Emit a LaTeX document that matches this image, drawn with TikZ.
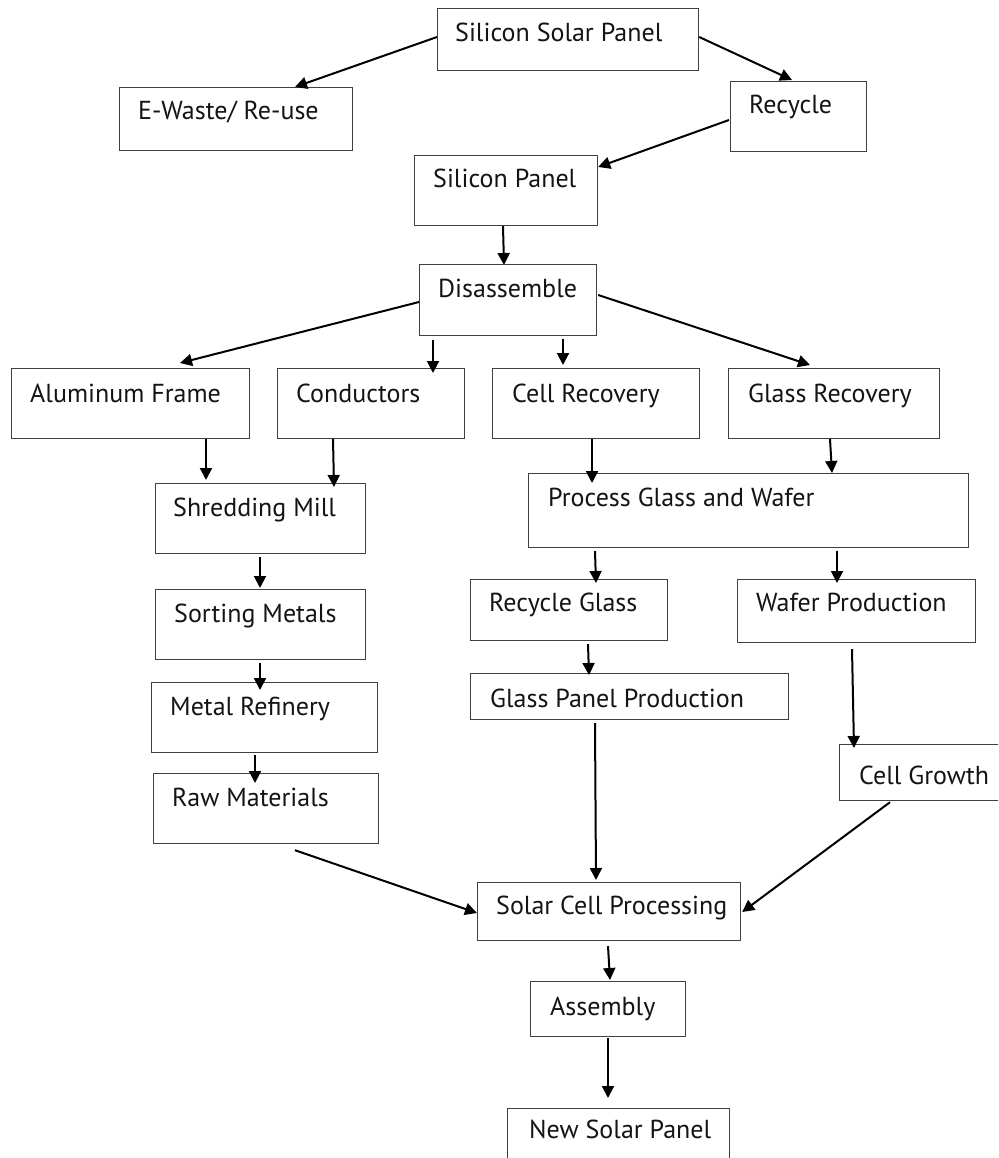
\documentclass[tikz,border=0pt]{standalone}
\usepackage{fontspec}
\setmainfont{PT Sans}
\usetikzlibrary{arrows.meta,calc}
\begin{document}
\begin{tikzpicture}[x=1pt,y=-1pt,
  box/.style={draw=black!75,line width=1.2pt,anchor=north west,inner sep=0pt,fill=white},
  txt/.style={anchor=base west,inner sep=0pt,font=\fontsize{26}{31}\selectfont,text=black!92},
  arr/.style={line width=2pt,-{Triangle[length=12pt,width=12pt]}}]
\clip (0,0) rectangle (998,1158);
\fill[white] (0,0) rectangle (998,1158);
% boxes
\newcommand{\bx}[5]{\node[box,minimum width=#4-#2,minimum height=#5-#3] (#1) at (#2,#3) {};}
\bx{ssp}{437}{8}{698}{70}
\bx{ewaste}{119}{87}{352}{150}
\bx{recycle}{730}{81}{866}{151}
\bx{spanel}{414}{155}{597}{225}
\bx{disasm}{419}{264}{596}{335}
\bx{alu}{11}{368}{249}{438}
\bx{cond}{277}{368}{464}{438}
\bx{cellrec}{492}{368}{699}{438}
\bx{glassrec}{728}{368}{939}{438}
\bx{shred}{155}{483}{365}{553}
\bx{pgw}{528}{473}{968}{547}
\bx{sort}{155}{589}{365}{659}
\bx{refin}{151}{682}{377}{752}
\bx{raw}{153}{773}{378}{843}
\bx{rglass}{470}{579}{667}{640}
\bx{wafer}{737}{579}{975}{642}
\bx{gpp}{470}{673}{788}{719}
\bx{cgrowth}{839}{744}{1010}{800}
\bx{scp}{477}{882}{740}{940}
\bx{assembly}{530}{981}{685}{1036}
\bx{newsp}{507}{1108}{729}{1175}
% texts
\node[txt] (t1) at ($(ssp.north west)+(18,34)$) {Silicon Solar Panel};
\node[txt] (t2) at ($(ewaste.north west)+(19,33)$) {E-Waste/ Re-use};
\node[txt] (t3) at ($(recycle.north west)+(19,33)$) {Recycle};
\node[txt] (t4) at ($(spanel.north west)+(19,33)$) {Silicon Panel};
\node[txt] (t5) at ($(disasm.north west)+(19,33)$) {Disassemble};
\node[txt] (t6) at ($(alu.north west)+(19,34)$) {Aluminum Frame};
\node[txt] (t7) at ($(cond.north west)+(19,34)$) {Conductors};
\node[txt] (t8) at ($(cellrec.north west)+(20,34)$) {Cell Recovery};
\node[txt] (t9) at ($(glassrec.north west)+(20,34)$) {Glass Recovery};
\node[txt] (t10) at ($(shred.north west)+(18,33)$) {Shredding Mill};
\node[txt] (t11) at ($(pgw.north west)+(20,33)$) {Process Glass and Wafer};
\node[txt] (t12) at ($(sort.north west)+(19,33)$) {Sorting Metals};
\node[txt] (t13) at ($(refin.north west)+(19,33)$) {Metal Refinery};
\node[txt] (t14) at ($(raw.north west)+(19,33)$) {Raw Materials};
\node[txt] (t15) at ($(rglass.north west)+(19,32)$) {Recycle Glass};
\node[txt] (t16) at ($(wafer.north west)+(19,32)$) {Wafer Production};
\node[txt] (t17) at ($(gpp.north west)+(20,34)$) {Glass Panel Production};
\node[txt] (t18) at ($(cgrowth.north west)+(20,40)$) {Cell Growth};
\node[txt] (t19) at ($(scp.north west)+(19,32)$) {Solar Cell Processing};
\node[txt] (t20) at ($(assembly.north west)+(20,34)$) {Assembly};
\node[txt] (t21) at ($(newsp.north west)+(22,30)$) {New Solar Panel};
% connectors
\draw[arr] ($(ssp.north west)+(0,29)$) -- ($(ewaste.north west)+(176,0)$);
\draw[arr] ($(ssp.north east)+(0,29)$) -- ($(recycle.north west)+(62,-1)$);
\draw[arr] ($(recycle.north west)+(-1,39)$) -- ($(spanel.north east)+(0,12)$);
\draw[arr] ($(spanel.south west)+(89,0)$) -- ($(disasm.north west)+(85,1)$);
\draw[arr] ($(disasm.north west)+(0,38)$) -- ($(alu.north west)+(169,-5)$);
\draw[arr] ($(disasm.south west)+(14,4)$) -- ($(cond.north west)+(156,5)$);
\draw[arr] ($(disasm.south west)+(144,3)$) -- ($(cellrec.north west)+(71,-3)$);
\draw[arr] ($(disasm.north east)+(1,31)$) -- ($(glassrec.north west)+(82,-3)$);
\draw[arr] ($(alu.south west)+(195,0)$) -- ($(shred.north west)+(51,-3)$);
\draw[arr] ($(cond.south west)+(56,0)$) -- ($(shred.north west)+(179,4)$);
\draw[arr] ($(shred.south west)+(105,3)$) -- ($(sort.north west)+(105,-1)$);
\draw[arr] ($(sort.south west)+(105,3)$) -- ($(refin.north west)+(109,8)$);
\draw[arr] ($(refin.south west)+(104,2)$) -- ($(raw.north west)+(102,10)$);
\draw[arr] ($(cellrec.south west)+(100,0)$) -- ($(pgw.north west)+(64,10)$);
\draw[arr] ($(glassrec.south west)+(102,0)$) -- ($(pgw.north west)+(304,0)$);
\draw[arr] ($(pgw.south west)+(67,3)$) -- ($(rglass.north west)+(126,4)$);
\draw[arr] ($(pgw.south west)+(309,3)$) -- ($(wafer.north west)+(100,4)$);
\draw[arr] ($(rglass.south west)+(118,3)$) -- ($(gpp.north west)+(119,2)$);
\draw[arr] ($(gpp.south west)+(125,3)$) -- ($(scp.north west)+(119,-2)$);
\draw[arr] ($(wafer.south west)+(115,6)$) -- ($(cgrowth.north west)+(15,4)$);
\draw[arr] ($(raw.south west)+(142,6)$) -- ($(scp.north west)+(0,31)$);
\draw[arr] ($(cgrowth.south west)+(51,1)$) -- ($(scp.north east)+(1,30)$);
\draw[arr] ($(scp.south west)+(131,5)$) -- ($(assembly.north west)+(80,-1)$);
\draw[arr] ($(assembly.south west)+(78,1)$) -- ($(newsp.north west)+(101,-10)$);
\end{tikzpicture}
\end{document}
